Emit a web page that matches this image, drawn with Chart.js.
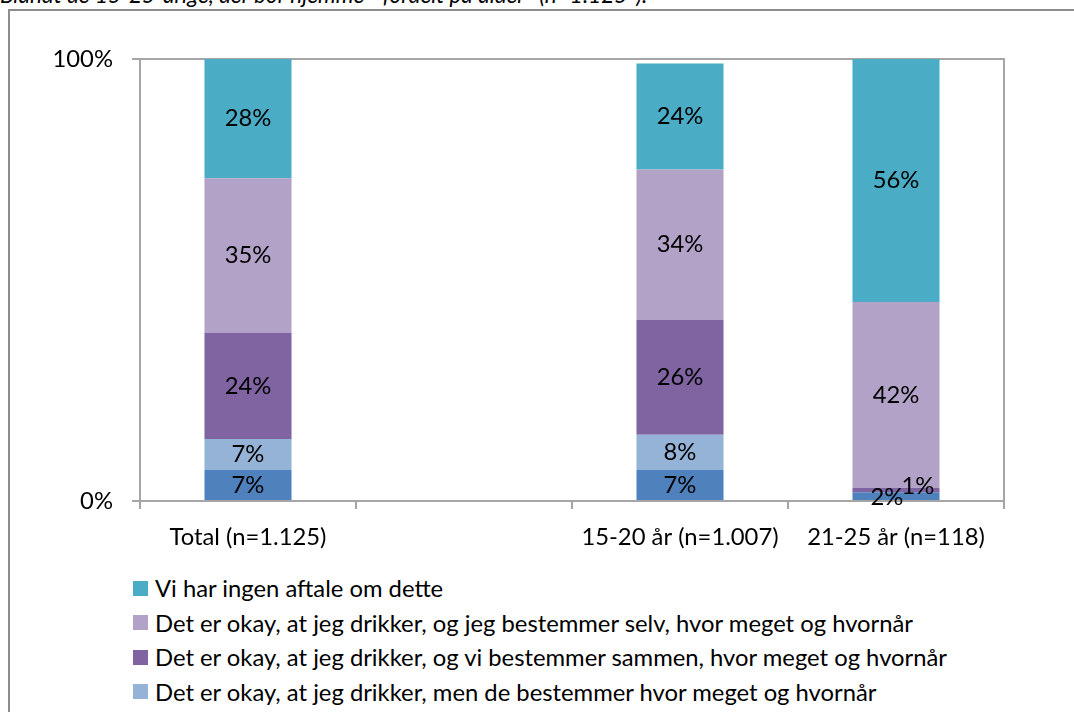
<!DOCTYPE html>
<html lang="da">
<head>
<meta charset="utf-8">
<title>Aftaler om alkohol</title>
<script src="https://cdn.jsdelivr.net/npm/chart.js@4.4.1/dist/chart.umd.min.js"></script>
<style>
  html, body { margin: 0; padding: 0; background: #fff; overflow: hidden; }
  body { width: 1074px; height: 712px; position: relative; font-family: Lato, "Open Sans", sans-serif; }
  .titel { position: absolute; left: 0; top: -19px; font-style: italic; font-size: 22.5px; color: #000; white-space: nowrap; }
  .ramme { position: absolute; left: 8px; top: 9px; width: 1200px; height: 900px; border: 2px solid #8c8c8c; }
  .chart-wrap { position: absolute; left: 0; top: 0; width: 1074px; height: 560px; }
  #legende { position: absolute; left: 133px; top: 571px; margin: 0; padding: 0; list-style: none; }
  #legende li { height: 34.5px; display: flex; align-items: center; font-size: 23.8px; color: #000; white-space: nowrap; }
  #legende .swatch { width: 15px; height: 15px; margin-right: 7px; flex: none; }
</style>
</head>
<body>
<div class="titel">Blandt de 15-25-årige, der bor hjemme - fordelt på alder* (n=1.125*).</div>
<div class="ramme"></div>
<div class="chart-wrap"><canvas id="aftaleChart" width="1074" height="560"></canvas></div>
<ul id="legende"></ul>
<script>
// Kategorier (den tomme plads er med i originalen)
const categories = ['Total (n=1.125)', '', '15-20 år (n=1.007)', '21-25 år (n=118)'];

// Serier nedefra og op i søjlen
const seriesNames = [
    'Det er ikke okay, at jeg drikker',
    'Det er okay, at jeg drikker, men de bestemmer hvor meget og hvornår',
    'Det er okay, at jeg drikker, og vi bestemmer sammen, hvor meget og hvornår',
    'Det er okay, at jeg drikker, og jeg bestemmer selv, hvor meget og hvornår',
    'Vi har ingen aftale om dette'
];
const ikkeOkay     = [7, null, 7, 2];
const deBestemmer  = [7, null, 8, 0];
const viSammen     = [24, null, 26, 1];
const jegSelv      = [35, null, 34, 42];
const ingenAftale  = [28, null, 24, 56];

const yTicks = [0, 100];

const colors = ['#4f81bd', '#95b3d7', '#8064a2', '#b3a2c7', '#4bacc6'];
const gridGray = '#a6a6a6';
const fontFamily = 'Lato, "Open Sans", sans-serif';
const fontSize = 23.8;

const seriesValues = [ikkeOkay, deBestemmer, viSammen, jegSelv, ingenAftale];

// Excel har flyttet de små etiketter i sidste søjle manuelt
const labelOffsets = { '0-3': [-9, 1], '2-3': [22, -4] };

const dataLabels = {
    id: 'dataLabels',
    afterDatasetsDraw(chart) {
        const ctx = chart.ctx;
        const area = chart.chartArea;
        ctx.save();
        ctx.font = `${fontSize}px ${fontFamily}`;
        ctx.fillStyle = '#000';
        ctx.textAlign = 'center';
        ctx.textBaseline = 'middle';
        chart.data.datasets.forEach((ds, di) => {
            const meta = chart.getDatasetMeta(di);
            meta.data.forEach((bar, i) => {
                const v = ds.data[i];
                if (!v) return;
                const top = Math.max(bar.y, area.top);
                const bottom = Math.min(bar.base, area.bottom);
                const off = labelOffsets[`${di}-${i}`] || [0, 0];
                ctx.fillText(`${v}%`, bar.x + off[0], (top + bottom) / 2 + off[1]);
            });
        });
        ctx.restore();
    }
};

// Højre kant af plotområdet
const plotBorder = {
    id: 'plotBorder',
    afterDraw(chart) {
        const { ctx, chartArea } = chart;
        ctx.save();
        ctx.strokeStyle = gridGray;
        ctx.lineWidth = 2;
        ctx.beginPath();
        ctx.moveTo(chartArea.right, chartArea.top - 1);
        ctx.lineTo(chartArea.right, chartArea.bottom + 8);
        ctx.stroke();
        ctx.restore();
    }
};

const chart = new Chart(document.getElementById('aftaleChart'), {
    type: 'bar',
    data: {
        labels: categories,
        datasets: seriesValues.map((vals, i) => ({
            label: seriesNames[i],
            data: vals,
            backgroundColor: colors[i],
            borderWidth: 0,
            barPercentage: 0.403,
            categoryPercentage: 1
        }))
    },
    options: {
        responsive: false,
        animation: false,
        layout: { padding: { top: 59, right: 70, bottom: 9, left: 0 } },
        plugins: {
            legend: { display: false },
            tooltip: { enabled: false }
        },
        scales: {
            x: {
                stacked: true,
                afterFit: scale => { scale.height = 50; },
                grid: {
                    offset: true,
                    drawOnChartArea: false,
                    tickLength: 8,
                    tickColor: gridGray,
                    tickWidth: 2,
                    lineWidth: 2
                },
                border: { color: gridGray, width: 2 },
                ticks: {
                    color: '#000',
                    padding: 14,
                    font: { family: fontFamily, size: fontSize },
                    maxRotation: 0,
                    autoSkip: false
                }
            },
            y: {
                stacked: true,
                min: 0,
                max: 100,
                afterFit: scale => { scale.width = 140; },
                afterBuildTicks: scale => { scale.ticks = yTicks.map(v => ({ value: v })); },
                grid: {
                    color: gridGray,
                    lineWidth: 2,
                    tickLength: 8
                },
                border: { color: gridGray, width: 2 },
                ticks: {
                    color: '#000',
                    padding: 19,
                    font: { family: fontFamily, size: fontSize },
                    callback: v => v + '%'
                }
            }
        }
    },
    plugins: [dataLabels, plotBorder]
});

// Legende som i originalen: øverste serie først
const legende = document.getElementById('legende');
chart.data.datasets.slice().reverse().forEach(ds => {
    const li = document.createElement('li');
    li.innerHTML = `<span class="swatch" style="background:${ds.backgroundColor}"></span>${ds.label}`;
    legende.appendChild(li);
});
</script>
</body>
</html>
